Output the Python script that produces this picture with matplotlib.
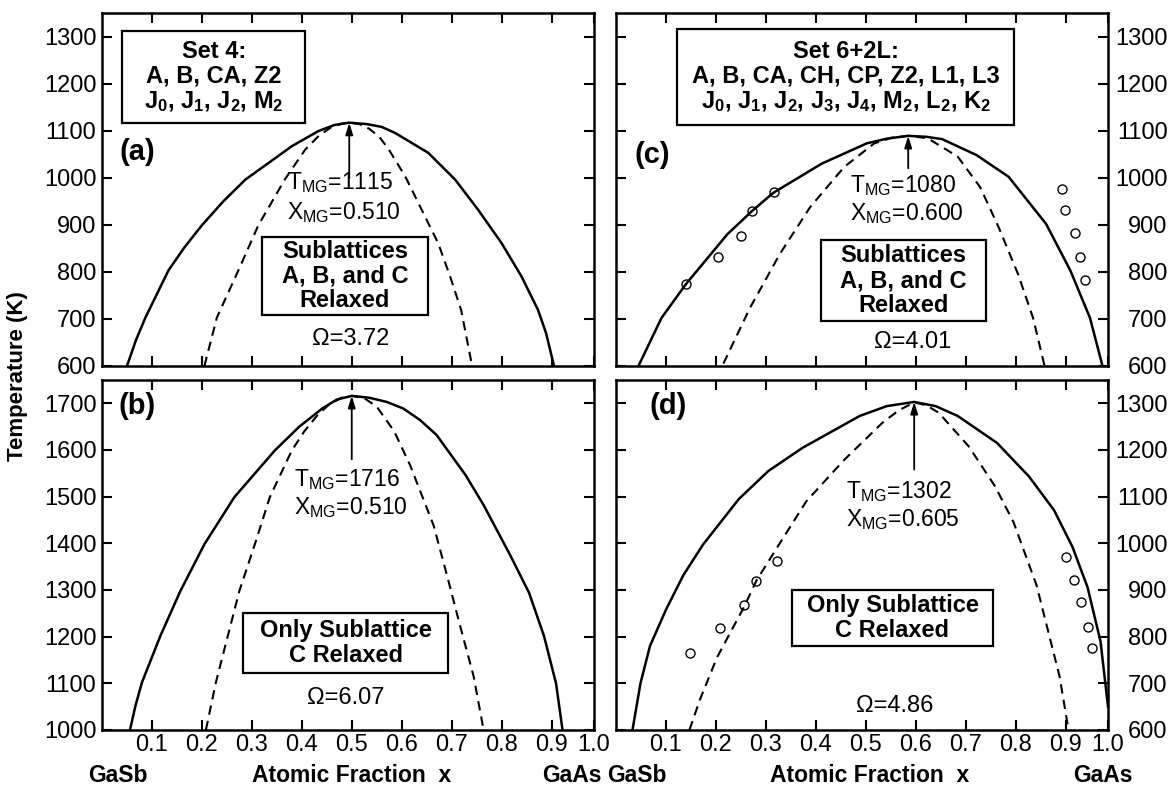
import matplotlib
matplotlib.use("Agg")
import matplotlib.pyplot as plt
from matplotlib.patches import Rectangle

plt.rcParams['font.family'] = 'Liberation Sans'
plt.rcParams['mathtext.fontset'] = 'custom'
plt.rcParams['mathtext.rm'] = 'Liberation Sans'
plt.rcParams['mathtext.it'] = 'Liberation Sans:italic'
plt.rcParams['mathtext.bf'] = 'Liberation Sans:bold'

# ---- data (x = atomic fraction, T in K) ----
# (a) Set 4, sublattices A, B, C relaxed
a_bin_x = [0.050, 0.068, 0.087, 0.110, 0.133, 0.165, 0.200, 0.243, 0.287, 0.333, 0.380,
           0.433, 0.465, 0.495, 0.530, 0.560, 0.587, 0.653, 0.707, 0.753, 0.800, 0.840,
           0.873, 0.889, 0.905]
a_bin_T = [600, 655, 703, 753, 803, 852, 899, 950, 996, 1031, 1067,
           1099, 1112, 1117, 1114, 1108, 1095, 1053, 996, 932, 861, 790,
           719, 670, 600]
a_spin_x = [0.205, 0.230, 0.273, 0.313, 0.367, 0.407, 0.435, 0.460, 0.480, 0.495,
            0.515, 0.535, 0.555, 0.573, 0.607, 0.640, 0.673, 0.697, 0.719, 0.741]
a_spin_T = [600, 703, 803, 899, 998, 1060, 1090, 1108, 1115, 1117,
            1114, 1104, 1087, 1062, 1003, 932, 861, 790, 719, 600]

# (b) Set 4, only sublattice C relaxed
b_bin_x = [0.056, 0.067, 0.080, 0.117, 0.157, 0.205, 0.265, 0.346, 0.395, 0.441, 0.470,
           0.500, 0.535, 0.570, 0.603, 0.637, 0.670, 0.728, 0.764, 0.818, 0.855, 0.885,
           0.909, 0.922]
b_bin_T = [1000, 1052, 1102, 1202, 1298, 1398, 1499, 1599, 1650, 1689, 1708,
           1716, 1712, 1703, 1689, 1664, 1632, 1546, 1482, 1373, 1294, 1201,
           1100, 1000]
b_spin_x = [0.208, 0.228, 0.252, 0.275, 0.306, 0.336, 0.380, 0.405, 0.430, 0.455, 0.480,
            0.500, 0.525, 0.550, 0.585, 0.617, 0.664, 0.691, 0.717, 0.744, 0.764]
b_spin_T = [1000, 1102, 1202, 1298, 1398, 1499, 1599, 1640, 1673, 1698, 1712,
            1716, 1711, 1693, 1640, 1567, 1438, 1330, 1223, 1115, 1000]

# (c) Set 6+2L, sublattices A, B, C relaxed
c_bin_x = [0.045, 0.091, 0.140, 0.223, 0.272, 0.315, 0.412, 0.502, 0.542, 0.585,
           0.621, 0.653, 0.722, 0.786, 0.861, 0.910, 0.949, 0.974]
c_bin_T = [600, 702, 774, 880, 929, 968, 1030, 1073, 1083, 1089,
           1087, 1082, 1048, 1002, 902, 802, 702, 600]
c_spin_x = [0.215, 0.268, 0.328, 0.389, 0.457, 0.517, 0.552, 0.585,
            0.624, 0.684, 0.729, 0.766, 0.805, 0.835, 0.858]
c_spin_T = [605, 723, 838, 938, 1023, 1073, 1085, 1089,
            1084, 1045, 980, 895, 795, 702, 600]
c_exp_x = [0.140, 0.205, 0.250, 0.273, 0.316, 0.892, 0.898, 0.919, 0.929, 0.939]
c_exp_T = [775, 831, 877, 930, 969, 975, 931, 883, 832, 782]

# (d) Set 6+2L, only sublattice C relaxed
d_bin_x = [0.033, 0.049, 0.068, 0.101, 0.135, 0.174, 0.246, 0.305, 0.374, 0.488, 0.542,
           0.597, 0.640, 0.684, 0.763, 0.827, 0.877, 0.914, 0.944, 0.970, 0.985]
d_bin_T = [600, 700, 780, 860, 932, 997, 1095, 1155, 1205, 1273, 1294,
           1303, 1294, 1273, 1215, 1143, 1071, 992, 906, 790, 650]
d_spin_x = [0.147, 0.168, 0.202, 0.257, 0.281, 0.322, 0.381, 0.457, 0.533, 0.566,
            0.597, 0.621, 0.646, 0.706, 0.759, 0.796, 0.842, 0.888, 0.906]
d_spin_T = [600, 665, 755, 865, 920, 990, 1090, 1179, 1258, 1285,
            1302, 1296, 1280, 1208, 1122, 1045, 910, 715, 600]
d_exp_x = [0.148, 0.208, 0.257, 0.281, 0.323, 0.901, 0.916, 0.930, 0.945, 0.952]
d_exp_T = [764, 818, 868, 920, 962, 970, 921, 875, 821, 776]

# the printed axes end a little short of x = 1.0, where the "1.0" label sits
x_end = 0.985
x_ticks = [0.1, 0.2, 0.3, 0.4, 0.5, 0.6, 0.7, 0.8, 0.9, x_end]
x_ticklabels = ['0.1', '0.2', '0.3', '0.4', '0.5', '0.6', '0.7', '0.8', '0.9', '1.0']
T_ticks_low = [600, 700, 800, 900, 1000, 1100, 1200, 1300]
T_ticks_high = [1000, 1100, 1200, 1300, 1400, 1500, 1600, 1700]

# ---- figure layout (pixel boxes of the four panels) ----
W, H = 1175, 786
fig = plt.figure(figsize=(W / 100, H / 100), dpi=100)


def add_ax(left, top, right, bottom):
    return fig.add_axes([left / W, 1 - bottom / H, (right - left) / W, (bottom - top) / H])


ax_a = add_ax(102, 13, 594, 366)
ax_b = add_ax(102, 380, 594, 730)
ax_c = add_ax(616, 13, 1108, 366)
ax_d = add_ax(616, 380, 1108, 730)


def style(ax, ylim, yticks, label_side, show_x):
    ax.set_xlim(0, x_end)
    ax.set_ylim(*ylim)
    ax.set_xticks(x_ticks)
    ax.set_xticklabels(x_ticklabels)
    ax.set_yticks(yticks)
    ax.tick_params(direction='in', length=7, width=1.5, top=True, right=True,
                   labelsize=17)
    ax.tick_params(axis='x', labelbottom=show_x, pad=3)
    if label_side == 'left':
        ax.tick_params(axis='y', labelleft=True, labelright=False, pad=4)
    else:
        # right-hand labels are set flush right, like the printed figure
        ax.tick_params(axis='y', labelleft=False, labelright=True, pad=43)
        for lab in ax.yaxis.get_majorticklabels():
            lab.set_horizontalalignment('right')
    for s in ax.spines.values():
        s.set_linewidth(1.8)


style(ax_a, (600, 1350), T_ticks_low, 'left', False)
style(ax_b, (1000, 1750), T_ticks_high, 'left', True)
style(ax_c, (600, 1350), T_ticks_low, 'right', False)
style(ax_d, (600, 1350), T_ticks_low, 'right', True)

dash = (0, (4.5, 3))
for ax, bx, bT, sx, sT in [(ax_a, a_bin_x, a_bin_T, a_spin_x, a_spin_T),
                           (ax_b, b_bin_x, b_bin_T, b_spin_x, b_spin_T),
                           (ax_c, c_bin_x, c_bin_T, c_spin_x, c_spin_T),
                           (ax_d, d_bin_x, d_bin_T, d_spin_x, d_spin_T)]:
    ax.plot(bx, bT, color='black', lw=1.8, solid_joinstyle='round')
    ax.plot(sx, sT, color='black', lw=1.5, ls=dash)

ax_c.plot(c_exp_x, c_exp_T, 'o', mfc='none', mec='black', ms=6.5, mew=1.0)
ax_d.plot(d_exp_x, d_exp_T, 'o', mfc='none', mec='black', ms=6.5, mew=1.0)


def box(ax, x0, x1, T0, T1, text):
    ax.add_patch(Rectangle((x0, T0), x1 - x0, T1 - T0, fill=False, ec='black',
                           lw=1.6, clip_on=False, zorder=3))
    ax.text((x0 + x1) / 2, (T0 + T1) / 2, text, ha='center', va='center',
            multialignment='center', fontsize=17, fontweight='bold',
            linespacing=1.1, zorder=4)


def arrow(ax, x, T_tail, T_head):
    ax.annotate('', xy=(x, T_head), xytext=(x, T_tail),
                arrowprops=dict(arrowstyle='-|>,head_length=0.7,head_width=0.22',
                                lw=1.3, color='black', shrinkA=0, shrinkB=0))


def mg_text(ax, x, T1, T2, tmg, xmg):
    ax.text(x, T1, r'T$_{\mathrm{MG}}$=' + tmg, fontsize=16.5, ha='left', va='center')
    ax.text(x, T2, r'X$_{\mathrm{MG}}$=' + xmg, fontsize=16.5, ha='left', va='center')


# (a)
ax_a.text(0.07, 1055, '(a)', fontsize=21, fontweight='bold', ha='center', va='center')
box(ax_a, 0.041, 0.407, 1117, 1311,
    'Set 4:\nA, B, CA, Z2\n'
    r'J$_\mathbf{0}$, J$_\mathbf{1}$, J$_\mathbf{2}$, M$_\mathbf{2}$')
arrow(ax_a, 0.495, 999, 1117)
mg_text(ax_a, 0.370, 989, 925, '1115', '0.510')
box(ax_a, 0.320, 0.653, 708, 874, 'Sublattices\nA, B, and C\nRelaxed')
ax_a.text(0.497, 658, '\u03a9=3.72', fontsize=17, ha='center', va='center')

# (b)
ax_b.text(0.071, 1694, '(b)', fontsize=21, fontweight='bold', ha='center', va='center')
arrow(ax_b, 0.500, 1580, 1716)
mg_text(ax_b, 0.384, 1537, 1476, '1716', '0.510')
box(ax_b, 0.283, 0.693, 1122, 1250, 'Only Sublattice\nC Relaxed')
ax_b.text(0.488, 1068, '\u03a9=6.07', fontsize=17, ha='center', va='center')

# (c)
ax_c.text(0.072, 1048, '(c)', fontsize=21, fontweight='bold', ha='center', va='center')
box(ax_c, 0.123, 0.797, 1112, 1316,
    'Set 6+2L:\nA, B, CA, CH, CP, Z2, L1, L3\n'
    r'J$_\mathbf{0}$, J$_\mathbf{1}$, J$_\mathbf{2}$, J$_\mathbf{3}$, '
    r'J$_\mathbf{4}$, M$_\mathbf{2}$, L$_\mathbf{2}$, K$_\mathbf{2}$')
arrow(ax_c, 0.585, 1020, 1089)
mg_text(ax_c, 0.468, 984, 923, '1080', '0.600')
box(ax_c, 0.410, 0.741, 695, 868, 'Sublattices\nA, B, and C\nRelaxed')
ax_c.text(0.593, 652, '\u03a9=4.01', fontsize=17, ha='center', va='center')

# (d)
ax_d.text(0.105, 1294, '(d)', fontsize=21, fontweight='bold', ha='center', va='center')
arrow(ax_d, 0.597, 1158, 1303)
mg_text(ax_d, 0.461, 1111, 1051, '1302', '0.605')
box(ax_d, 0.352, 0.755, 780, 899, 'Only Sublattice\nC Relaxed')
ax_d.text(0.558, 652, '\u03a9=4.86', fontsize=17, ha='center', va='center')

# axis captions
fig.text(18 / W, 1 - 376 / H, 'Temperature (K)', rotation=90, ha='center', va='center',
         fontsize=16, fontweight='bold')
for xp, s in [(118, 'GaSb'), (352, 'Atomic Fraction  x'), (572, 'GaAs'),
              (637, 'GaSb'), (870, 'Atomic Fraction  x'), (1103, 'GaAs')]:
    fig.text(xp / W, 1 - 776 / H, s, ha='center', va='center', fontsize=16.5,
             fontweight='bold')

fig.savefig('out.png', dpi=100)
